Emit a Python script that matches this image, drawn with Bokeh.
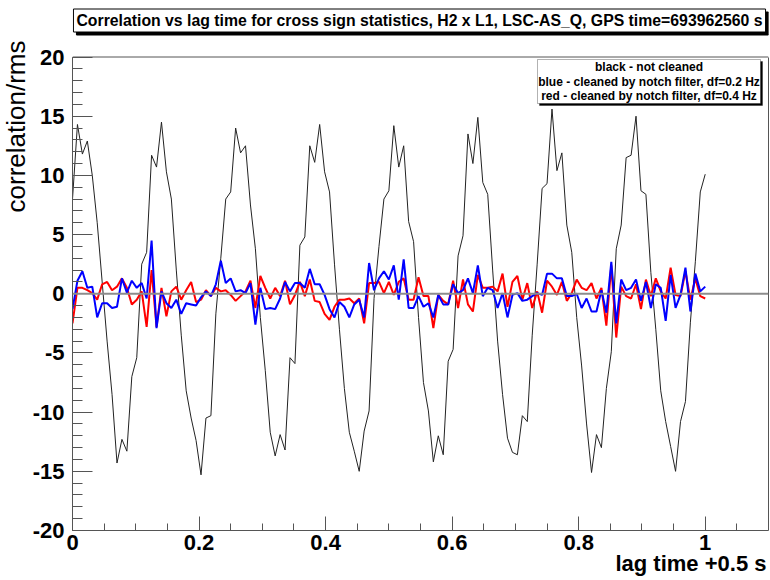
import numpy as np
from bokeh.plotting import figure
from bokeh.models import (FixedTicker, Label, Span, BoxAnnotation, Range1d,
                          Title, LinearAxis)
from bokeh.embed import file_html
from bokeh.resources import INLINE

# ---------------- data ----------------
n_samples = 129                      # lag sampled every 1/128 s
lag = (np.arange(n_samples) / 128.0).tolist()

black_not_cleaned = [
    8.0, 14.3, 11.8, 12.9, 10.0, 6.0, 1.0, -4.0, -8.5, -14.3,
    -12.3, -13.3, -7.0, -5.4, 2.5, 3.5, 11.7, 10.7, 14.5, 10.3,
    8.0, 2.0, -3.5, -8.2, -10.5, -12.4, -15.3, -10.5, -10.3, -1.7,
    3.0, 8.0, 8.6, 14.0, 11.9, 12.5, 7.5, 3.8, -2.0, -6.5,
    -11.7, -13.7, -11.9, -13.2, -5.4, -5.9, 4.1, 4.8, 12.5, 11.1,
    14.3, 10.3, 8.6, 2.5, -3.0, -8.0, -11.7, -13.3, -15.0, -11.6,
    -9.9, -0.4, 4.0, 8.0, 8.7, 14.2, 10.7, 12.5, 6.1, 4.4,
    -2.0, -7.5, -9.9, -14.2, -12.0, -13.6, -5.7, -4.7, 3.2, 4.9,
    13.5, 11.0, 14.9, 9.4, 8.4, 2.0, -4.0, -8.5, -12.2, -13.4,
    -13.6, -10.3, -10.8, -3.5, 2.5, 8.9, 9.3, 15.6, 10.4, 11.9,
    5.8, 3.5, -2.0, -6.1, -11.0, -15.1, -11.9, -13.0, -8.0, -4.9,
    3.8, 5.8, 11.5, 11.7, 15.0, 8.7, 8.4, 1.8, -3.0, -8.2,
    -10.8, -12.9, -15.0, -10.8, -9.1, -2.4, 2.7, 8.6, 10.1,
]

blue_df02 = [
    -1.3, 1.1, 1.9, 0.5, 0.6, -2.0, -0.8, -0.8, -1.2, -1.1,
    1.3, 0.1, 1.1, 0.5, 0.9, -0.4, 4.5, -2.9, 0.2, -0.8,
    -1.2, -0.5, -1.7, -0.8, -0.9, -1.0, -0.3, 0.2, -0.2, 0.8,
    2.8, 0.9, 1.3, 0.2, 0.3, 0.05, 0.9, -2.6, 0.5, -1.3,
    -1.2, -1.3, -0.4, 1.0, 0.2, 0.9, 0.9, 0.5, 2.1, 0.8,
    0.8, -0.1, -1.3, -2.0, -0.7, -1.1, -2.0, -0.9, -0.5, -2.0,
    2.6, 0.3, 1.3, 1.9, 1.2, 2.4, -0.5, 2.9, -1.2, -1.2,
    -0.2, -1.1, -0.8, -2.0, -0.1, -0.9, -0.9, 0.8, 0.05, 0.3,
    1.3, 0.05, 2.4, -0.2, 0.5, 0.3, -1.2, 0.05, -2.0, -0.1,
    0.05, -0.6, -0.5, -0.2, 0.05, -0.1, 1.7, 1.7, 1.3, 1.3,
    -0.2, -0.2, 0.0, -1.2, -0.4, -1.5, -1.5, 0.3, -1.6, 2.7,
    -2.5, 1.2, 0.3, 0.5, 1.2, -0.6, 1.0, -1.2, 0.8, 0.5,
    -2.3, 1.6, -1.2, -0.1, 2.2, -1.5, 1.7, 0.2, 0.6,
]

red_df04 = [
    -2.5, 0.5, 0.5, 0.3, 0.05, -0.5, 0.8, 1.0, 0.3, 0.6,
    1.3, 0.5, -0.9, -0.5, 0.2, -2.8, 2.0, -2.8, 0.5, -1.9,
    0.2, 0.6, -0.5, 0.3, 1.0, -0.7, -0.5, 0.3, -0.2, 0.5,
    0.2, 0.3, -0.1, -0.6, -0.2, 0.2, 1.1, -1.2, 1.5, 0.5,
    -0.4, 0.5, -0.2, 1.1, -0.9, -0.1, 1.0, -0.2, 1.2, -0.6,
    -0.7, -1.7, -2.2, -1.1, -0.5, -0.5, -0.4, -0.8, -0.4, -2.5,
    0.9, 0.9, 1.0, 0.05, 1.0, -0.1, 1.0, 1.3, -0.5, -0.5,
    1.4, -0.2, -0.2, -2.9, -0.1, -0.6, -0.9, 1.1, -1.2, 1.2,
    -0.9, -1.5, 1.6, 0.5, 0.5, 0.6, 0.2, 1.7, -1.1, 1.0,
    1.5, -0.5, 0.9, -1.2, 0.2, -1.6, 1.1, 0.6, -0.1, 1.0,
    -0.6, 0.05, 1.2, 0.5, 0.3, 0.9, -0.4, 0.5, -2.7, 2.4,
    -3.7, 0.6, -0.2, -0.4, 0.8, -1.3, 1.2, -0.2, 1.3, 0.2,
    -0.4, 2.2, -0.1, -0.2, 1.9, -0.5, 1.3, -0.2, -0.4,
]

x_major = [0, 0.2, 0.4, 0.6, 0.8, 1.0]
x_minor = [0.05, 0.1, 0.15, 0.25, 0.3, 0.35, 0.45, 0.5, 0.55, 0.65, 0.7, 0.75,
           0.85, 0.9, 0.95, 1.05]
x_labels = {0: "0", 0.2: "0.2", 0.4: "0.4", 0.6: "0.6", 0.8: "0.8", 1.0: "1"}
y_major = [-20, -15, -10, -5, 0, 5, 10, 15, 20]
y_minor = list(range(-20, 21))
y_labels = {v: str(v) for v in y_major}

title_text = ("Correlation vs lag time for cross sign statistics, H2 x L1, "
              "LSC-AS_Q, GPS time=693962560 s")
legend_lines = ["black - not cleaned",
                "blue - cleaned by notch filter, df=0.2 Hz",
                "red - cleaned by notch filter, df=0.4 Hz"]

FONT = "Liberation Sans"
AX = "#555555"

# layout geometry (canvas pixels; canvas is 770x580)
W, H = 770, 580
LEFT, RIGHT_B = 72, 2
Y20_PX = 56.5              # canvas row of y = 20 (frame itself reaches the top)
BOTTOM_BORDER = 50
S = (H - BOTTOM_BORDER - Y20_PX) / 40.0          # px per y unit
Y_TOP = 20 + Y20_PX / S
XS = (W - RIGHT_B - LEFT) / 1.1                   # px per x unit


def ydat(px):
    """canvas row -> data y (used only to place annotations)"""
    return 20 - (px - Y20_PX) / S


def xdat(px):
    return (px - LEFT) / XS


# ---------------- figure ----------------
p = figure(width=W, height=H, output_backend="svg", toolbar_location=None,
           title=None,
           x_range=Range1d(0, 1.1), y_range=Range1d(-20, Y_TOP),
           min_border_left=LEFT, min_border_right=RIGHT_B, min_border_top=0,
           min_border_bottom=BOTTOM_BORDER)
p.background_fill_color = "white"
p.border_fill_color = "white"
p.grid.visible = False
p.outline_line_color = None

xa = p.xaxis[0]
xa.ticker = FixedTicker(ticks=x_major, minor_ticks=x_minor)
xa.major_label_overrides = x_labels
xa.major_tick_in = 14
xa.major_tick_out = 0
xa.minor_tick_in = 7
xa.minor_tick_out = 0
xa.major_label_standoff = 4
xa.axis_label_standoff = 0
xa.major_label_text_font = FONT
xa.major_label_text_font_style = "bold"
xa.major_label_text_font_size = "22px"
xa.major_label_text_color = "black"

ya = p.yaxis[0]
ya.bounds = (-20, 20)
ya.ticker = FixedTicker(ticks=y_major, minor_ticks=y_minor)
ya.major_label_overrides = y_labels
ya.major_tick_in = 20
ya.major_tick_out = 0
ya.minor_tick_in = 10
ya.minor_tick_out = 0
ya.major_label_standoff = 8
ya.axis_label_standoff = 0
ya.major_label_text_font = FONT
ya.major_label_text_font_style = "bold"
ya.major_label_text_font_size = "22px"
ya.major_label_text_color = "black"

for ax in (xa, ya):
    ax.axis_line_color = AX
    ax.major_tick_line_color = AX
    ax.minor_tick_line_color = AX

# right edge of the plot box
ra = LinearAxis(bounds=(-20, 20), ticker=FixedTicker(ticks=[]),
                major_tick_in=0, major_tick_out=0, minor_tick_in=0,
                minor_tick_out=0, major_label_standoff=0,
                axis_line_color=AX)
p.add_layout(ra, "right")

# top edge of the plot box
p.add_layout(Span(location=20, dimension="width", line_color=AX, line_width=1))

# ---------------- data lines ----------------
p.line(lag, black_not_cleaned, line_color="#222222", line_width=1)
p.line(lag, red_df04, line_color="#ff0000", line_width=2)
p.line(lag, blue_df02, line_color="#0000ff", line_width=2)

p.add_layout(Span(location=0, dimension="width", line_color="#8c8c8c",
                  line_width=2))

# ---------------- legend box ----------------
p.add_layout(BoxAnnotation(left=xdat(539), right=xdat(762), top=ydat(61),
                           bottom=ydat(105), fill_color="black", fill_alpha=1.0,
                           line_color="black", line_width=1))
p.add_layout(BoxAnnotation(left=xdat(537), right=xdat(760), top=ydat(59),
                           bottom=ydat(103), fill_color="white", fill_alpha=1.0,
                           line_color="black", line_width=1))
for txt, row in zip(legend_lines, [66.5, 81, 95.5]):
    p.add_layout(Label(x=xdat(648.5), y=ydat(row), text=txt,
                       text_align="center", text_baseline="middle",
                       text_font=FONT, text_font_style="bold",
                       text_font_size="12px", text_color="black"))

# ---------------- title box (inside the extended frame) ----------------
p.add_layout(Label(x=xdat(422), y=ydat(23), text=title_text,
                   text_align="center", text_baseline="middle",
                   text_font=FONT, text_font_style="bold",
                   text_font_size="15.8px", text_color="black",
                   background_fill_color="black", border_line_color="black",
                   padding=3))
p.add_layout(Label(x=xdat(419), y=ydat(20), text=title_text,
                   text_align="center", text_baseline="middle",
                   text_font=FONT, text_font_style="bold",
                   text_font_size="15.8px", text_color="black",
                   background_fill_color="white", border_line_color="black",
                   padding=3))

# ---------------- axis titles ----------------
p.add_layout(Title(text="correlation/rms", align="right", offset=40,
                   standoff=-3, text_font=FONT, text_font_style="normal",
                   text_font_size="26px", text_color="black"), "left")
p.add_layout(Title(text="lag time +0.5 s", align="right", standoff=-7,
                   offset=2, text_font=FONT, text_font_style="bold",
                   text_font_size="22px", text_color="black"), "below")

open("out.html", "w").write(file_html(p, INLINE))
